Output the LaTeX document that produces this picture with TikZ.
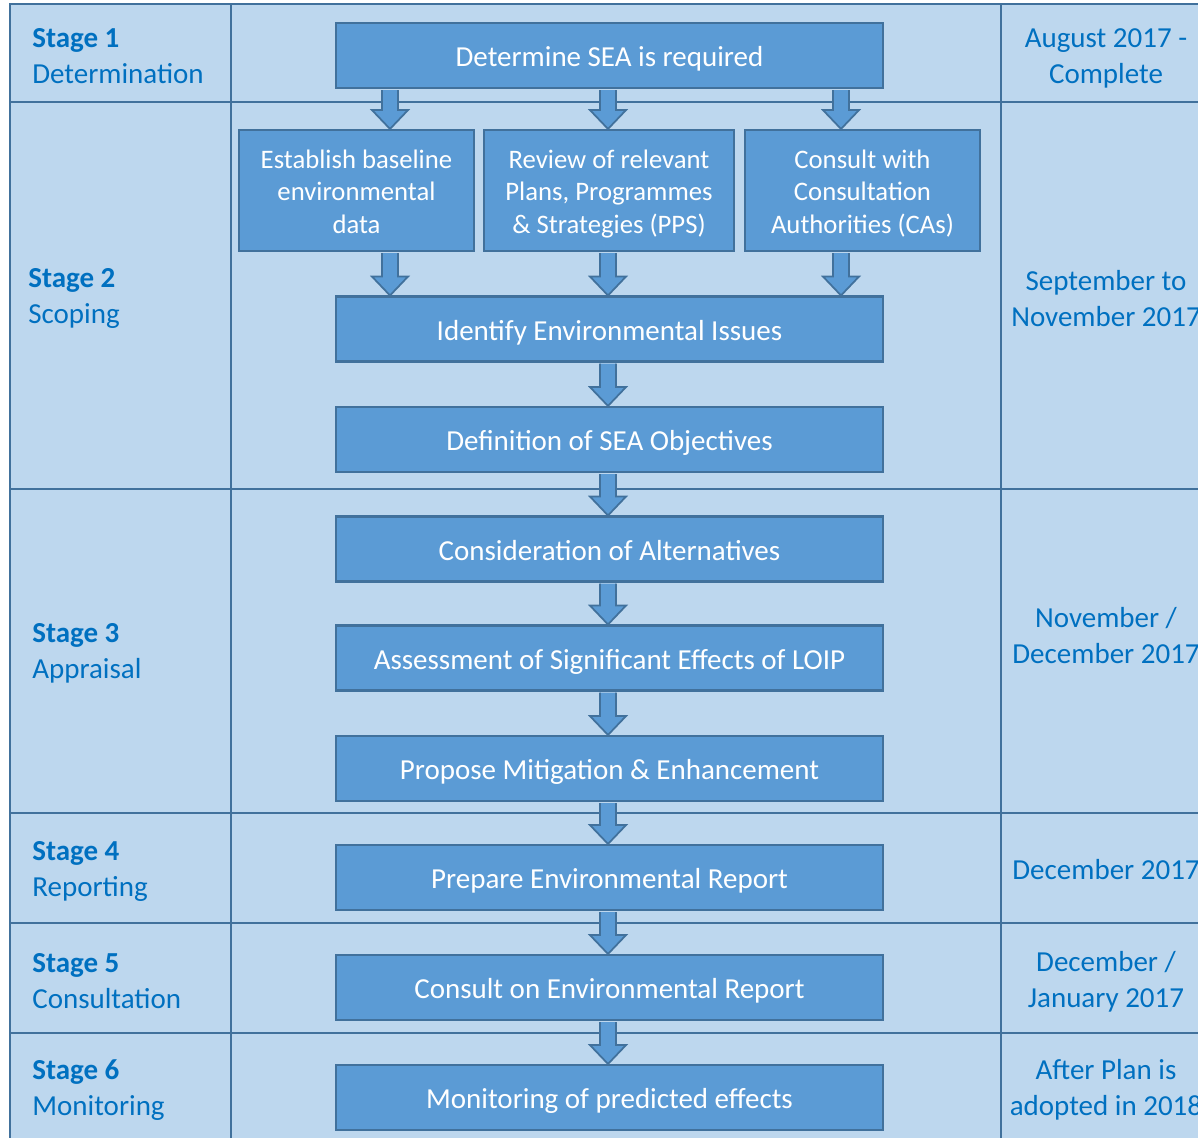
\documentclass[tikz,border=0pt]{standalone}
\usepackage{fontspec}
\setmainfont{Carlito}
\usetikzlibrary{calc,positioning}

\definecolor{tablefill}{HTML}{BDD7EE}
\definecolor{gridline}{HTML}{41719C}
\definecolor{boxfill}{HTML}{5B9BD5}
\definecolor{boxline}{HTML}{41719C}
\definecolor{stagetext}{HTML}{0070C0}

% block arrow at x-position #1 from anchor #2 down to anchor #3
\newcommand{\flowarrow}[3]{%
  \path (#2) coordinate (fa-s) (#3) coordinate (fa-e) (#1,0) coordinate (fa-x);
  \draw[flow] let \p1=(fa-s), \p2=(fa-e), \p3=(fa-x) in
    (\x3-4.6pt,\y1-0.6pt) -- (\x3-4.6pt,\y2+10.8pt) -- (\x3-10.3pt,\y2+10.8pt) -- (\x3,\y2)
    -- (\x3+10.3pt,\y2+10.8pt) -- (\x3+4.6pt,\y2+10.8pt) -- (\x3+4.6pt,\y1-0.6pt);
}

\begin{document}
\begin{tikzpicture}[x=0.02cm,y=-0.02cm,
  box/.style={draw=boxline,fill=boxfill,line width=1.2pt,text=white,minimum width=10.94cm,minimum height=1.3cm,inner sep=0pt,text height=13.5pt,text depth=0.5pt,font=\fontsize{16.5}{20.5}\selectfont},
  smallbox/.style={box,minimum height=2.42cm,align=center,text height=49pt,text depth=0.2pt,font=\fontsize{15.2}{18.5}\selectfont},
  flow/.style={draw=boxline,fill=boxfill,line width=1pt,line join=miter},
  stage/.style={anchor=west,align=left,text=stagetext,inner sep=0pt,font=\fontsize{16.5}{20.5}\selectfont},
  when/.style={align=center,text=stagetext,inner sep=0pt,font=\fontsize{16.5}{20.5}\selectfont},
  grid/.style={draw=gridline,line width=1.6pt}]
  \useasboundingbox (0,0) rectangle (1198,1138);

  % table
  \fill[tablefill] (10,4) rectangle (1220,1160);
  \draw[grid] (10,1160) -- (10,4) -- (1220,4);
  \foreach \y in {102,489,813,923,1033}
    \draw[grid] (10,\y) -- (1220,\y);
  \draw[grid] (231,4) -- (231,1160);
  \draw[grid] (1001,4) -- (1001,1160);

  % stages
  \node[stage] (s1) at (32,56) {\textbf{Stage 1}\\Determination};
  \node[stage] (s2) at (28,298.5) {\textbf{Stage 2}\\Scoping};
  \node[stage] (s3) at (32,653.5) {\textbf{Stage 3}\\Appraisal};
  \node[stage] (s4) at (32,871) {\textbf{Stage 4}\\Reporting};
  \node[stage] (s5) at (32,981) {\textbf{Stage 5}\\Consultation};
  \node[stage] (s6) at (32,1090) {\textbf{Stage 6}\\Monitoring};

  % dates
  \node[when] (d1) at (1106,58) {August 2017 -\\Complete};
  \node[when] (d2) at (1106,298.5) {September to\\November 2017};
  \node[when] (d3) at (1106,636) {November /\\December 2017};
  \node[when] (d4) at (1106,870) {December 2017};
  \node[when] (d5) at (1106,982) {December /\\January 2017};
  \node[when] (d6) at (1106,1090) {After Plan is\\adopted in 2018};

  % steps
  \node[box] (det) at (609.5,55.5) {Determine SEA is required};
  \node[smallbox,minimum width=4.7cm] (est) at (356.5,190.5) {Establish baseline\\environmental\\data};
  \node[smallbox,minimum width=5cm] (rev) at (609,190.5) {Review of relevant\\Plans, Programmes\\\& Strategies (PPS)};
  \node[smallbox,minimum width=4.7cm] (con) at (862.5,190.5) {Consult with\\Consultation\\Authorities (CAs)};
  \node[box] (iss) at (609.5,329) {Identify Environmental Issues};
  \node[box] (obj) at (609.5,439.5) {Definition of SEA Objectives};
  \node[box] (alt) at (609.5,549) {Consideration of Alternatives};
  \node[box] (ass) at (609.5,658) {Assessment of Significant Effects of LOIP};
  \node[box] (mit) at (609.5,768.5) {Propose Mitigation \& Enhancement};
  \node[box] (rep) at (609.5,877.5) {Prepare Environmental Report};
  \node[box] (cer) at (609.5,987.5) {Consult on Environmental Report};
  \node[box] (mon) at (609.5,1097.5) {Monitoring of predicted effects};

  % arrows
  \flowarrow{390}{det.south}{est.north}
  \flowarrow{608}{det.south}{rev.north}
  \flowarrow{841}{det.south}{con.north}
  \flowarrow{390}{est.south}{iss.north}
  \flowarrow{608}{rev.south}{iss.north}
  \flowarrow{841}{con.south}{iss.north}
  \flowarrow{608}{iss.south}{obj.north}
  \flowarrow{608}{obj.south}{alt.north}
  \flowarrow{608}{alt.south}{ass.north}
  \flowarrow{608}{ass.south}{mit.north}
  \flowarrow{608}{mit.south}{rep.north}
  \flowarrow{608}{rep.south}{cer.north}
  \flowarrow{608}{cer.south}{mon.north}
\end{tikzpicture}
\end{document}
